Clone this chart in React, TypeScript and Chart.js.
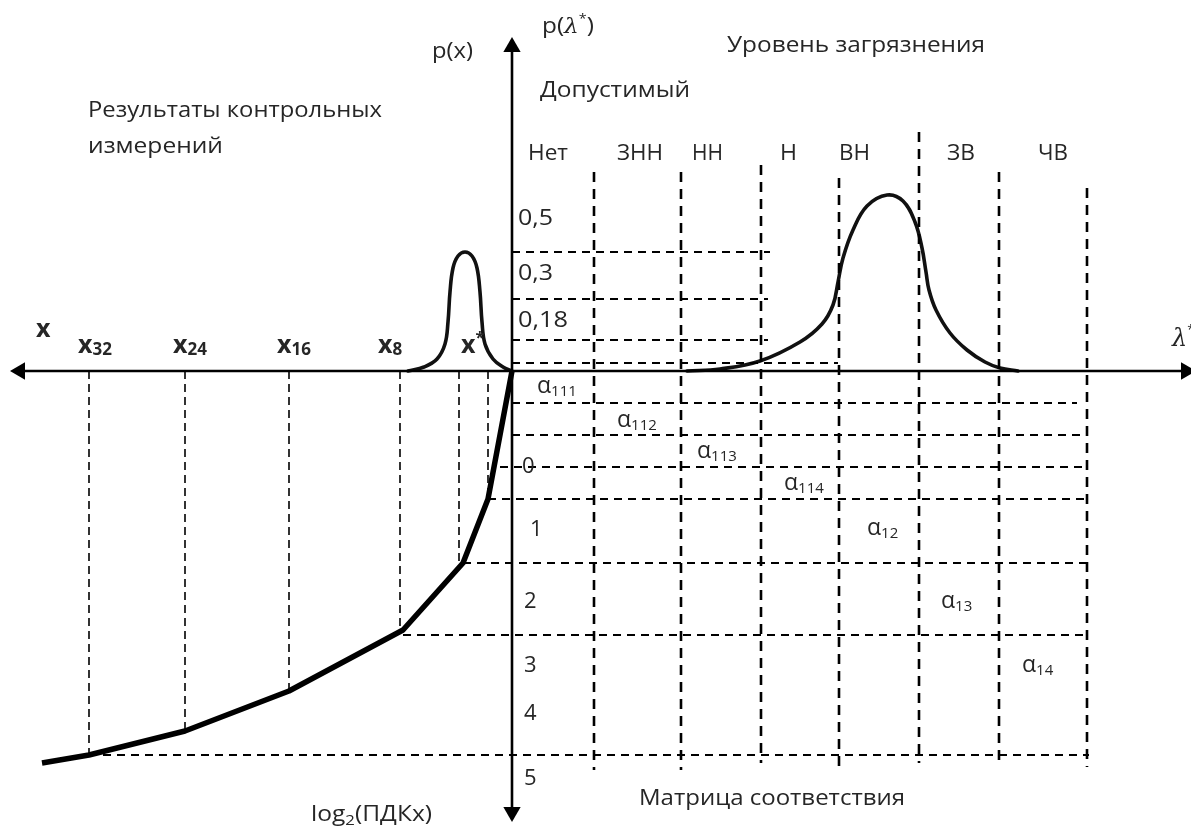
import React, { useEffect, useRef } from "react";
import { Chart, registerables } from "chart.js";

Chart.register(...registerables);

const W = 1191;
const H = 827;

// ---- diagram values (diagram units on a 0..1191 / 0..827 grid) ----
const axisX = 512;
const axisY = 371;
const hAxisFrom = 16;
const hAxisTo = 1184;
const vAxisFrom = 46;
const vAxisTo = 814;

const matrixColumnsX = [594, 681, 761, 839, 919, 999, 1087];
const matrixColumnsTop = [172, 172, 165, 178, 132, 172, 188];
const matrixColumnsBottom = [770, 770, 763, 770, 763, 763, 767];

const upperRowsY = [252, 299, 340, 363];
const upperRowsEnd = [770, 768, 768, 838];

const lowerRowsY = [403, 435, 467, 499, 563, 635, 755];
const lowerRowsStart = [512, 512, 500, 488, 463, 403, 89];
const lowerRowsEnd = [1077, 1085, 1087, 1085, 1089, 1089, 1089];

const measureX = [89, 185, 289, 400, 459, 488];
const measureBottom = [755, 731, 691, 630, 563, 499];

const logCurveX = [42, 89, 185, 289, 403, 463, 488, 512];
const logCurveY = [763, 755, 731, 691, 630, 563, 499, 371];

const peakX = [408, 424, 437, 445, 448, 450, 453, 458, 465, 472, 477, 480, 482, 485, 493, 503, 512];
const peakY = [371, 367, 359, 344, 322, 292, 268, 256, 252, 256, 268, 292, 322, 344, 359, 367, 371];

const bellX = [687, 720, 760, 800, 822, 833, 838, 843, 853, 867, 887, 903, 915, 922, 926, 929, 936, 950, 967, 985, 1000, 1018];
const bellY = [371, 369, 361, 342, 324, 305, 282, 258, 230, 206, 195, 201, 222, 248, 272, 290, 310, 333, 350, 362, 368, 371];

// ---- labels ----
const columnLabels = ["Нет", "ЗНН", "НН", "Н", "ВН", "ЗВ", "ЧВ"];
const columnLabelX = [528, 617, 692, 780, 839, 947, 1038];
const columnLabelW = [40, 46, 31, 17, 31, 28, 30];

const probLabels = ["0,5", "0,3", "0,18"];
const probLabelY = [225, 280, 327];
const probLabelW = [35, 35, 50];

const logLabels = ["0", "1", "2", "3", "4", "5"];
const logLabelX = [522, 530, 524, 524, 524, 524];
const logLabelY = [473, 536, 608, 672, 720, 785];

const measureLabels = ["32", "24", "16", "8"];
const measureLabelX = [78, 173, 277, 378];

const alphaLabels = ["111", "112", "113", "114", "12", "13", "14"];
const alphaX = [537, 617, 697, 784, 867, 941, 1022];
const alphaY = [393, 427, 458, 490, 535, 608, 672];

const TEXT = "#262626";
const FONT = '"Open Sans", "Noto Sans", sans-serif';

type Seg = { t: string; size?: number; dy?: number; bold?: boolean; italic?: boolean; family?: string };
type Label = { x: number; y: number; segs: Seg[]; w?: number; size?: number; bold?: boolean };

function buildLabels(): Label[] {
  const L: Label[] = [];
  L.push({
    x: 542, y: 33, w: 52,
    segs: [{ t: "p(" }, { t: "λ", italic: true, family: '"DejaVu Serif", serif', size: 21 }, { t: "*", size: 13, dy: -10 }, { t: ")" }],
  });
  L.push({ x: 432, y: 58, w: 41, segs: [{ t: "p(x)" }] });
  L.push({ x: 727, y: 52, w: 258, segs: [{ t: "Уровень загрязнения" }] });
  L.push({ x: 540, y: 97, w: 150, segs: [{ t: "Допустимый" }] });
  L.push({ x: 88, y: 117, w: 294, segs: [{ t: "Результаты контрольных" }] });
  L.push({ x: 88, y: 153, w: 135, segs: [{ t: "измерений" }] });
  columnLabels.forEach((t, i) => L.push({ x: columnLabelX[i], y: 160, w: columnLabelW[i], segs: [{ t }] }));
  probLabels.forEach((t, i) => L.push({ x: 518, y: probLabelY[i], w: probLabelW[i], segs: [{ t }] }));
  logLabels.forEach((t, i) => L.push({ x: logLabelX[i], y: logLabelY[i], segs: [{ t }] }));
  L.push({ x: 639, y: 805, w: 266, segs: [{ t: "Матрица соответствия" }] });
  L.push({ x: 311, y: 821, w: 121, segs: [{ t: "log" }, { t: "2", size: 15, dy: 4 }, { t: "(ПДКх)" }] });
  L.push({
    x: 1172, y: 346,
    segs: [{ t: "λ", italic: true, family: '"DejaVu Serif", serif', size: 24 }, { t: "*", size: 13, dy: -12 }],
  });
  // bold x labels
  L.push({ x: 36, y: 337, bold: true, segs: [{ t: "x", size: 25 }] });
  measureLabels.forEach((t, i) =>
    L.push({ x: measureLabelX[i], y: 353, bold: true, segs: [{ t: "x", size: 25 }, { t, size: 17, dy: 2 }] })
  );
  L.push({ x: 461, y: 353, bold: true, segs: [{ t: "x", size: 25 }, { t: "*", size: 16, dy: -10 }] });
  alphaLabels.forEach((t, i) =>
    L.push({ x: alphaX[i], y: alphaY[i], segs: [{ t: "α", size: 23 }, { t, size: 15, dy: 3 }] })
  );
  return L;
}

function segFont(s: Seg, lab: Label) {
  const size = s.size ?? lab.size ?? 22;
  const bold = s.bold ?? lab.bold;
  return `${s.italic ? "italic " : ""}${bold ? "bold " : ""}${size}px ${s.family ?? FONT}`;
}

const textPlugin = {
  id: "diagramText",
  afterDatasetsDraw(chart: any) {
    const ctx = chart.ctx as CanvasRenderingContext2D;
    const sx = chart.scales.x;
    const sy = chart.scales.y;
    ctx.save();
    ctx.fillStyle = TEXT;
    ctx.textBaseline = "alphabetic";
    ctx.textAlign = "left";
    for (const lab of buildLabels()) {
      const widths: number[] = [];
      let total = 0;
      for (const s of lab.segs) {
        ctx.font = segFont(s, lab);
        const w = ctx.measureText(s.t).width;
        widths.push(w);
        total += w;
      }
      const scaleX = lab.w ? lab.w / total : 1;
      ctx.save();
      ctx.translate(sx.getPixelForValue(lab.x), sy.getPixelForValue(lab.y));
      ctx.scale(scaleX, 1);
      let cx = 0;
      lab.segs.forEach((s, i) => {
        ctx.font = segFont(s, lab);
        ctx.fillText(s.t, cx, s.dy ?? 0);
        cx += widths[i];
      });
      ctx.restore();
    }
    ctx.restore();
  },
};

function seg(xs: number[], ys: number[], opts: any) {
  return {
    data: xs.map((x, i) => ({ x, y: ys[i] })),
    showLine: true,
    pointRadius: 0,
    borderColor: "#000",
    backgroundColor: "#000",
    fill: false,
    clip: false,
    ...opts,
  };
}

function arrow(x: number, y: number, rotation: number) {
  return {
    data: [{ x, y }],
    showLine: false,
    pointStyle: "triangle",
    pointRotation: rotation,
    pointRadius: 10,
    pointBorderWidth: 0,
    backgroundColor: "#000",
    borderColor: "#000",
    clip: false,
  };
}

export default function App() {
  const ref = useRef<HTMLCanvasElement | null>(null);

  useEffect(() => {
    if (!ref.current) return;
    const datasets: any[] = [];

    matrixColumnsX.forEach((x, i) =>
      datasets.push(seg([x, x], [matrixColumnsTop[i], matrixColumnsBottom[i]], { borderWidth: 2.6, borderDash: [10, 7] }))
    );
    upperRowsY.forEach((y, i) =>
      datasets.push(seg([axisX, upperRowsEnd[i]], [y, y], { borderWidth: 2, borderDash: [8, 6] }))
    );
    lowerRowsY.forEach((y, i) =>
      datasets.push(seg([lowerRowsStart[i], lowerRowsEnd[i]], [y, y], { borderWidth: 2, borderDash: [8, 6] }))
    );
    measureX.forEach((x, i) =>
      datasets.push(seg([x, x], [axisY, measureBottom[i]], { borderWidth: 1.6, borderDash: [8, 5] }))
    );
    datasets.push(seg([hAxisFrom, hAxisTo], [axisY, axisY], { borderWidth: 2.6 }));
    datasets.push(seg([axisX, axisX], [vAxisFrom, vAxisTo], { borderWidth: 2.6 }));
    datasets.push(seg(logCurveX, logCurveY, { borderWidth: 5.5, borderJoinStyle: "round" }));
    datasets.push(seg(peakX, peakY, { borderWidth: 3.6, tension: 0.4, borderColor: "#111", borderCapStyle: "round" }));
    datasets.push(seg(bellX, bellY, { borderWidth: 3.6, tension: 0.4, borderColor: "#111", borderCapStyle: "round" }));
    datasets.push(arrow(axisX, 47, 0));
    datasets.push(arrow(axisX, 812, 180));
    datasets.push(arrow(20, axisY, 270));
    datasets.push(arrow(1186, axisY, 90));

    const chart = new Chart(ref.current, {
      type: "scatter",
      data: { datasets },
      options: {
        animation: false,
        responsive: false,
        devicePixelRatio: 1,
        events: [],
        layout: { padding: 0, autoPadding: false },
        scales: {
          x: { type: "linear", min: 0, max: W, display: false },
          y: { type: "linear", min: 0, max: H, reverse: true, display: false },
        },
        plugins: { legend: { display: false }, tooltip: { enabled: false } },
      },
      plugins: [textPlugin],
    } as any);
    return () => chart.destroy();
  }, []);

  return (
    <canvas
      ref={ref}
      width={W}
      height={H}
      style={{ position: "absolute", left: 0, top: 0, width: W, height: H, background: "#fff" }}
    />
  );
}
